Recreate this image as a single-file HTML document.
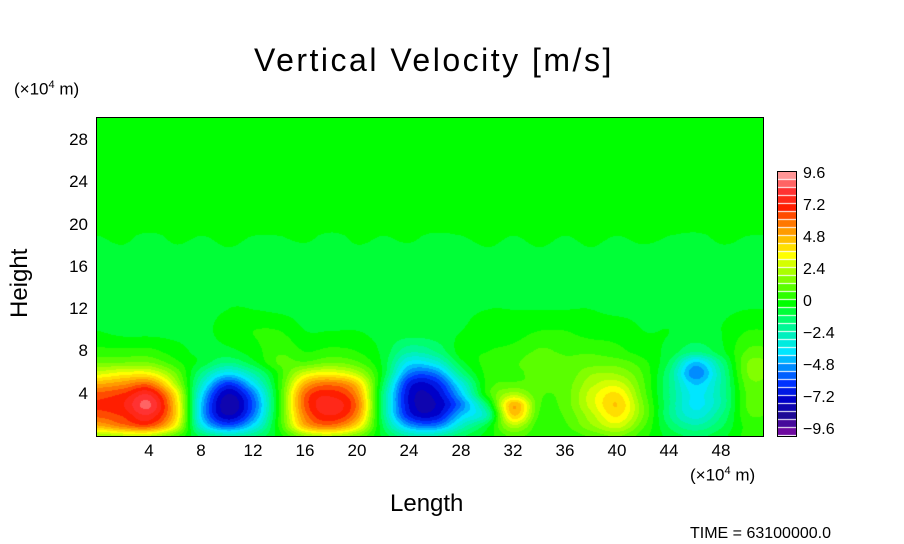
<!DOCTYPE html>
<html><head><meta charset="utf-8">
<style>
body{margin:0;background:#fff;width:904px;height:544px;position:relative;overflow:hidden;font-family:"Liberation Sans",sans-serif;color:#000}
.t{position:absolute;white-space:nowrap}
.yt{position:absolute;width:40px;text-align:right;font-size:17px;left:48px}
.xt{position:absolute;width:40px;text-align:center;font-size:17px;top:441px}
.cl{position:absolute;left:803px;font-size:16px}
</style></head><body>
<div class="t" style="left:254px;top:42px;font-size:32px;letter-spacing:2.5px">Vertical Velocity [m/s]</div>
<div class="t" style="left:14px;top:79px;font-size:17px">(×10<sup style="font-size:11px">4</sup> m)</div>
<div class="t" style="left:690px;top:465px;font-size:17px">(×10<sup style="font-size:11px">4</sup> m)</div>
<div class="t" style="left:390px;top:490px;font-size:24px">Length</div>
<div class="t" style="left:6px;transform:rotate(-90deg);transform-origin:left top;top:318px;font-size:24px">Height</div>
<div class="t" style="left:690px;top:525px;font-size:16px">TIME = 63100000.0</div>
<canvas id="plot" width="666" height="318" style="position:absolute;left:97px;top:118px"></canvas>
<div style="position:absolute;left:96px;top:117px;width:666px;height:318px;border:1px solid #000"></div>
<div id="axes"></div>
<canvas id="cbar" width="18" height="264" style="position:absolute;left:778px;top:172px"></canvas>
<div style="position:absolute;left:777px;top:171px;width:18px;height:264px;border:1px solid #000"></div>
<script>
const xTicks=[4,8,12,16,20,24,28,32,36,40,44,48];
const yTicks=[4,8,12,16,20,24,28];
const cbLabels=["9.6","7.2","4.8","2.4","0","−2.4","−4.8","−7.2","−9.6"];
const gx=[0,2,4,6,8,10,12,14,16,18,20,22,24,26,28,30,32,34,36,38,40,42,44,46,48,50,52];
const gy=[0,1,2,3,4,5,6,7,8,10,12,16,19,20.5,30];
const r0=[2,2.5,2.5,1,-1,-2,-1.5,0,2,2.5,1.5,-0.5,-2,-2,-1,0,1,0.5,0.5,1,1.5,0.5,-0.5,-1,-0.5,0.5,0.5];
const r1=[5,6,6.5,3.5,-3,-5.5,-3.5,0.5,5,6,4,-1,-4.5,-5,-2.5,-0.5,2.5,0.5,0.8,2,3,1,-1,-2,-1,0.5,0.5];
const r2=[6.5,7,8,4.5,-4,-7.5,-5,0.5,6,7.5,5.5,-1.5,-6.5,-7,-4,-2,4.5,0.8,1,2.5,4,1.5,-1.5,-3,-1.5,0.8,0.8];
const r3=[7,7.5,8.8,4.5,-4,-8,-5.5,0.5,6.5,7.8,6,-1.5,-7,-7.5,-5,-1,5,1,1.2,3,4.5,1.5,-1.5,-3.5,-2,1,1];
const r4=[6.5,7,8,4,-3.5,-7.5,-5,0.5,6.3,7.3,5.5,-1.5,-7,-7.2,-4,0.5,2.5,1,1.2,3,4,1.2,-1.5,-3.5,-2,1,1];
const r5=[5,5.5,6,2.5,-2.5,-6,-3.5,0.5,5,6,4.5,-1,-6.5,-6.5,-3,0.5,1,1,1.2,2.5,3,1,-1.5,-4,-2,1.2,1.2];
const r6=[3,3.5,3.5,1.5,-1.5,-3.5,-2,0.5,3,3.5,2.5,-0.5,-5,-5,-1.5,0.5,0.8,1,1,2,2,0.8,-1.5,-5,-2,1.5,1.5];
const r7=[1.5,1.5,1.5,0.5,-0.5,-1.5,-0.5,1,1,1.5,1,-0.5,-3.5,-3,-0.5,0.5,0.8,1.2,1,1.2,1.2,0.5,-1,-4,-1.5,1.5,1.5];
const r8=[0.5,0.5,0.5,0,-0.5,-0.5,0,0.8,0.3,0.5,0.3,-0.5,-2,-1.5,0,0.3,0.5,1,0.8,0.8,0.5,0,-0.5,-1.5,-0.5,1,1];
const r10=[-0.3,-0.5,-0.5,-0.5,-0.5,0,0.3,0.3,-0.3,-0.3,-0.3,-0.5,-0.5,-0.5,-0.3,0,0,0.3,0.3,0,0,-0.3,-0.3,-0.5,-0.3,0.3,0.3];
const r12=[-0.5,-0.5,-0.5,-0.4,-0.5,-0.3,-0.3,-0.4,-0.5,-0.5,-0.5,-0.5,-0.5,-0.5,-0.4,-0.3,-0.3,-0.3,-0.3,-0.3,-0.4,-0.4,-0.5,-0.5,-0.4,-0.3,-0.3];
const r16=[-0.5,-0.5,-0.6,-0.5,-0.5,-0.4,-0.4,-0.5,-0.6,-0.5,-0.5,-0.5,-0.6,-0.6,-0.5,-0.4,-0.4,-0.4,-0.4,-0.4,-0.5,-0.5,-0.5,-0.5,-0.5,-0.4,-0.4];
const r19=[-0.3,-0.2,-0.4,-0.2,-0.3,-0.2,-0.3,-0.3,-0.2,-0.4,-0.2,-0.3,-0.2,-0.4,-0.3,-0.2,-0.3,-0.2,-0.3,-0.2,-0.3,-0.2,-0.3,-0.4,-0.2,-0.3,-0.3];
const r20=[0.2,0.2,0.2,0.2,0.2,0.2,0.2,0.2,0.2,0.2,0.2,0.2,0.2,0.2,0.2,0.2,0.2,0.2,0.2,0.2,0.2,0.2,0.2,0.2,0.2,0.2,0.2];
const r30=[0.1,0.1,0.1,0.1,0.1,0.1,0.1,0.1,0.1,0.1,0.1,0.1,0.1,0.1,0.1,0.1,0.1,0.1,0.1,0.1,0.1,0.1,0.1,0.1,0.1,0.1,0.1];
const grid=[r0,r1,r2,r3,r4,r5,r6,r7,r8,r10,r12,r16,r19,r20,r30];

const X0=97,XS=13,Y0=436,YS=10.57;
const xPix=v=>X0+v*XS, yPix=v=>Y0-v*YS;
const stops=[[-9.6,[110,10,160]],[-8.4,[30,10,150]],[-7.2,[0,0,200]],[-6,[0,50,255]],[-4.8,[0,140,255]],[-3.6,[0,230,255]],[-2.4,[0,240,190]],[-1.2,[0,255,110]],[0,[0,255,0]],[1.2,[90,255,0]],[2.4,[170,255,0]],[3.6,[255,255,0]],[4.8,[255,190,0]],[6,[255,120,0]],[7.2,[255,30,0]],[8.4,[255,50,50]],[9.6,[255,150,150]]];
function col(v){
  v=Math.round(v/0.6)*0.6;
  if(v<=stops[0][0])return stops[0][1];
  for(let i=1;i<stops.length;i++){if(v<=stops[i][0]){const a=stops[i-1],b=stops[i],t=(v-a[0])/(b[0]-a[0]);return a[1].map((c,k)=>c+(b[1][k]-c)*t);}}
  return stops[stops.length-1][1];
}
function idx(arr,v){let i=0;while(i<arr.length-2&&v>arr[i+1])i++;return i;}
function cr(p0,p1,p2,p3,t){return 0.5*(2*p1+(-p0+p2)*t+(2*p0-5*p1+4*p2-p3)*t*t+(-p0+3*p1-3*p2+p3)*t*t*t);}
function rowAt(j,u){
  const r=grid[Math.max(0,Math.min(grid.length-1,j))];
  const i=idx(gx,u),t=Math.max(0,Math.min(1,(u-gx[i])/(gx[i+1]-gx[i])));
  const g=k=>r[Math.max(0,Math.min(r.length-1,k))];
  return cr(g(i-1),g(i),g(i+1),g(i+2),t);
}
function val(u,w){
  const j=idx(gy,w),t=Math.max(0,Math.min(1,(w-gy[j])/(gy[j+1]-gy[j])));
  const a=rowAt(j,u),b=rowAt(j+1,u);
  const a0=j>0?rowAt(j-1,u):a, b1=j+2<grid.length?rowAt(j+2,u):b;
  const v=cr(a0,a,b,b1,t);
  const lo=Math.min(a,b)-1.5,hi=Math.max(a,b)+1.5;
  return Math.max(lo,Math.min(hi,v));
}
const cv=document.getElementById('plot'),ctx=cv.getContext('2d'),img=ctx.createImageData(666,318);
for(let py=0;py<318;py++)for(let px=0;px<666;px++){
  const u=px/XS, w=(Y0-(py+118))/YS;
  const c=col(val(u,w)),o=(py*666+px)*4;
  img.data[o]=c[0];img.data[o+1]=c[1];img.data[o+2]=c[2];img.data[o+3]=255;
}
ctx.putImageData(img,0,0);
const cb=document.getElementById('cbar').getContext('2d');
for(let k=0;k<33;k++){const v=-9.6+(k+0.5)*19.2/33;const c=col(v);cb.fillStyle=`rgb(${c.map(Math.round)})`;cb.fillRect(0,264-(k+1)*8,18,7);}
const ax=document.getElementById('axes');
xTicks.forEach(t=>{const d=document.createElement('div');


d.className='xt';d.style.left=(xPix(t)-20)+'px';d.textContent=t;ax.appendChild(d);});
yTicks.forEach(t=>{const d=document.createElement('div');


d.className='yt';d.style.top=(yPix(t)-10)+'px';d.textContent=t;ax.appendChild(d);});
cbLabels.forEach((t,i)=>{const d=document.createElement('div');


d.className='cl';d.style.top=(165+i*32)+'px';d.textContent=t;ax.appendChild(d);});
</script>
</body></html>
